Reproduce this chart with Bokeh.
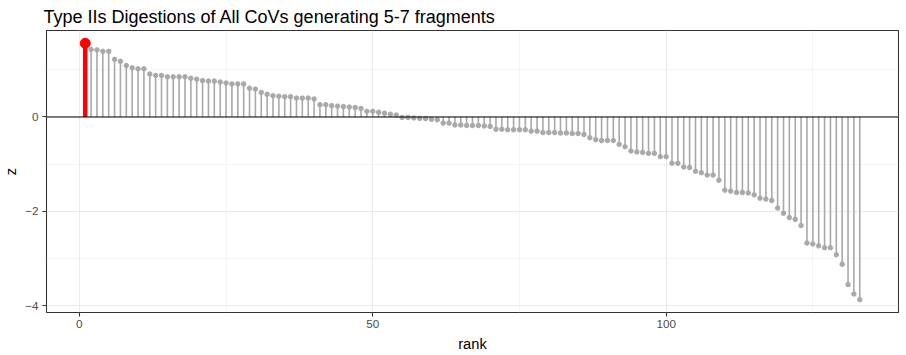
from bokeh.plotting import figure
from bokeh.models import ColumnDataSource, FixedTicker, Range1d, Span
from bokeh.embed import file_html
from bokeh.resources import INLINE

title_text = "Type IIs Digestions of All CoVs generating 5-7 fragments"
x_label = "rank"
y_label = "z"

z_values = [
    1.56, 1.43, 1.42, 1.39, 1.39, 1.22, 1.18, 1.09, 1.04, 1.02,
    1.02, 0.91, 0.88, 0.88, 0.85, 0.85, 0.85, 0.85, 0.82, 0.80,
    0.77, 0.76, 0.76, 0.74, 0.72, 0.70, 0.70, 0.70, 0.61, 0.59,
    0.52, 0.48, 0.45, 0.44, 0.43, 0.43, 0.40, 0.40, 0.40, 0.38,
    0.26, 0.26, 0.24, 0.23, 0.22, 0.21, 0.20, 0.18, 0.12, 0.12,
    0.10, 0.08, 0.06, 0.04, -0.01, -0.01, -0.02, -0.03, -0.035, -0.05,
    -0.06, -0.13, -0.13, -0.17, -0.17, -0.18, -0.18, -0.18, -0.19, -0.20,
    -0.26, -0.26, -0.27, -0.27, -0.27, -0.27, -0.30, -0.30, -0.33, -0.33,
    -0.33, -0.34, -0.34, -0.35, -0.35, -0.37, -0.44, -0.48, -0.50, -0.50,
    -0.50, -0.58, -0.63, -0.72, -0.74, -0.75, -0.77, -0.77, -0.84, -0.84,
    -0.98, -0.98, -1.06, -1.07, -1.15, -1.18, -1.23, -1.23, -1.34, -1.55,
    -1.57, -1.60, -1.60, -1.61, -1.65, -1.72, -1.74, -1.77, -1.93, -2.04,
    -2.13, -2.17, -2.30, -2.67, -2.69, -2.73, -2.77, -2.77, -2.92, -3.12,
    -3.55, -3.75, -3.87,
]
ranks = list(range(1, len(z_values) + 1))
highlight_index = [0]

x_ticks = [0, 50, 100]
x_minor = [25, 75, 125]
y_ticks = [-4, -2, 0]
y_minor = [-3, -1, 1]

src = ColumnDataSource(dict(rank=ranks, z=z_values))
hl = ColumnDataSource(dict(rank=[ranks[i] for i in highlight_index],
                           z=[z_values[i] for i in highlight_index]))

xspan = max(ranks) - min(ranks)
yspan = max(z_values) - min(z_values)
xr = Range1d(min(ranks) - 0.05 * xspan, max(ranks) + 0.05 * xspan)
yr = Range1d(min(z_values) - 0.05 * yspan, max(z_values) + 0.05 * yspan)

p = figure(width=906, height=355, output_backend="svg", toolbar_location=None,
           x_range=xr, y_range=yr, title=title_text,
           min_border_left=45, min_border_right=8, min_border_top=0, min_border_bottom=43)

p.title.text_font = "Liberation Sans"
p.title.text_font_size = "18px"
p.title.text_font_style = "normal"
p.title.text_color = "black"
p.title.standoff = 8
p.title.offset = -3

p.outline_line_color = "#333333"
p.outline_line_width = 1.07
p.background_fill_color = "white"
p.border_fill_color = "white"

p.xaxis.ticker = FixedTicker(ticks=x_ticks, minor_ticks=x_minor)
p.yaxis.ticker = FixedTicker(ticks=y_ticks, minor_ticks=y_minor)

for ax in (p.xaxis, p.yaxis):
    ax.axis_line_color = None
    ax.major_tick_line_color = "#333333"
    ax.major_tick_line_width = 1.07
    ax.major_tick_out = 4
    ax.major_tick_in = 0
    ax.minor_tick_line_color = None
    ax.major_label_text_font = "Liberation Sans"
    ax.major_label_text_font_size = "11.7px"
    ax.major_label_text_color = "#4D4D4D"
    ax.major_label_text_line_height = 1.0
    ax.axis_label_text_font = "Liberation Sans"
    ax.axis_label_text_font_size = "14.7px"
    ax.axis_label_text_font_style = "normal"
    ax.axis_label_text_color = "black"
    ax.axis_label_text_line_height = 1.0

p.xaxis.major_label_standoff = 3
p.xaxis.axis_label_standoff = 5
p.yaxis.major_label_standoff = 4
p.yaxis.axis_label_standoff = 3

p.xaxis.axis_label = x_label
p.yaxis.axis_label = y_label

for g in (p.xgrid, p.ygrid):
    g.grid_line_color = "#EBEBEB"
    g.grid_line_width = 1.07
    g.minor_grid_line_color = "#EBEBEB"
    g.minor_grid_line_width = 0.53
p.xgrid.ticker = p.xaxis.ticker
p.ygrid.ticker = p.yaxis.ticker

p.add_layout(Span(location=0, dimension="width", line_color="black", line_width=1.07))

p.segment(x0="rank", y0=0, x1="rank", y1="z", source=src, line_color="#A9A9A9", line_width=1.6)
p.scatter(x="rank", y="z", source=src, size=4.5, fill_color="#A9A9A9", line_color="#A9A9A9")
p.segment(x0="rank", y0=0, x1="rank", y1="z", source=hl, line_color="#FF0000", line_width=4.5)
p.scatter(x="rank", y="z", source=hl, size=10, fill_color="#FF0000", line_color="#FF0000")

open("out.html", "w").write(file_html(p, INLINE))
